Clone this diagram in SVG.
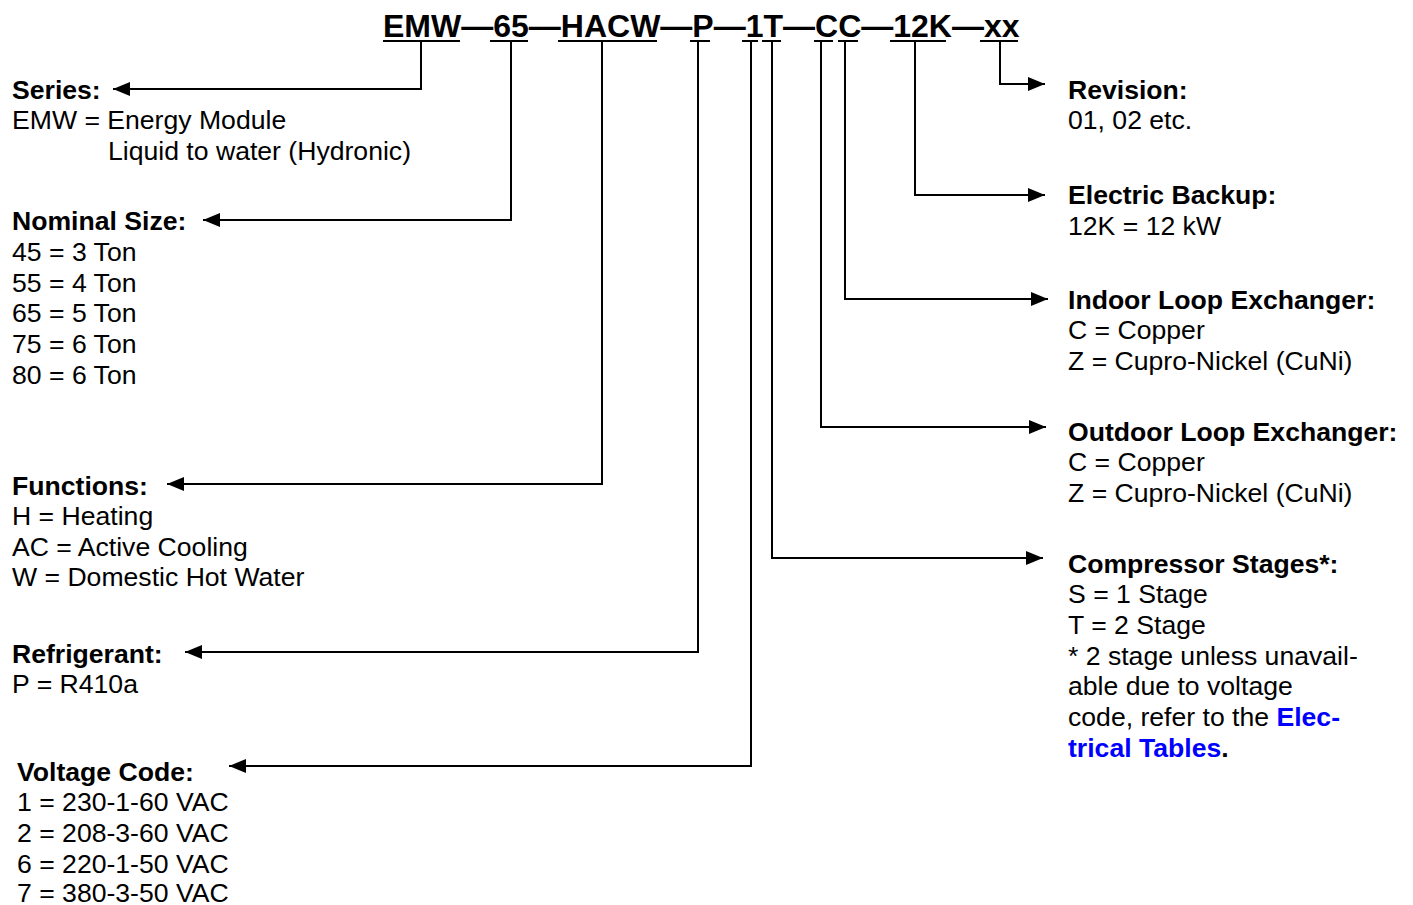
<svg xmlns="http://www.w3.org/2000/svg" width="1413" height="905" viewBox="0 0 1413 905">
<style>
text{font-family:"Liberation Sans",Arial,sans-serif;font-size:26.6px;fill:#000}
.b{font-weight:bold}
.t{font-size:32px;font-weight:bold}
.lnk{fill:#0000ff;font-weight:bold}
.c{fill:none;stroke:#000;stroke-width:2}
.u{stroke:#000;stroke-width:2}
</style>
<defs>
<marker id="ah" markerUnits="userSpaceOnUse" markerWidth="17" markerHeight="14" refX="17" refY="7" orient="auto">
<path d="M0,0 L17,7 L0,14 z" fill="#000"/>
</marker>
</defs>
<rect width="1413" height="905" fill="#fff"/>
<g id="title">
<text class="t" x="383" y="37">EMW—65—HACW—P—1T—CC—12K—xx</text>
<line class="u" x1="383" y1="41" x2="460" y2="41"/>
<line class="u" x1="490" y1="41" x2="528" y2="41"/>
<line class="u" x1="558" y1="41" x2="657" y2="41"/>
<line class="u" x1="690" y1="41" x2="710" y2="41"/>
<line class="u" x1="742" y1="41" x2="758" y2="41"/>
<line class="u" x1="762" y1="41" x2="781" y2="41"/>
<line class="u" x1="814" y1="41" x2="833" y2="41"/>
<line class="u" x1="838" y1="41" x2="858" y2="41"/>
<line class="u" x1="890" y1="41" x2="946" y2="41"/>
<line class="u" x1="980" y1="41" x2="1018" y2="41"/>
</g>
<g id="connectors">
<polyline class="c" points="421,41 421,89 113,89" marker-end="url(#ah)"/>
<polyline class="c" points="511,41 511,220 203,220" marker-end="url(#ah)"/>
<polyline class="c" points="602,41 602,484 167,484" marker-end="url(#ah)"/>
<polyline class="c" points="698,41 698,652 185,652" marker-end="url(#ah)"/>
<polyline class="c" points="751,41 751,766 229,766" marker-end="url(#ah)"/>
<polyline class="c" points="772,41 772,558 1043,558" marker-end="url(#ah)"/>
<polyline class="c" points="821,41 821,427 1046,427" marker-end="url(#ah)"/>
<polyline class="c" points="845,41 845,299 1048,299" marker-end="url(#ah)"/>
<polyline class="c" points="915,41 915,195 1045,195" marker-end="url(#ah)"/>
<polyline class="c" points="1000,41 1000,84 1045,84" marker-end="url(#ah)"/>
</g>
<g id="series">
<text class="b" x="12" y="99">Series:</text>
<text x="12" y="129">EMW = Energy Module</text>
<text x="108" y="160">Liquid to water (Hydronic)</text>
</g>
<g id="nominal-size">
<text class="b" x="12" y="230">Nominal Size:</text>
<text x="12" y="261">45 = 3 Ton</text>
<text x="12" y="292">55 = 4 Ton</text>
<text x="12" y="322">65 = 5 Ton</text>
<text x="12" y="353">75 = 6 Ton</text>
<text x="12" y="384">80 = 6 Ton</text>
</g>
<g id="functions">
<text class="b" x="12" y="495">Functions:</text>
<text x="12" y="525">H = Heating</text>
<text x="12" y="556">AC = Active Cooling</text>
<text x="12" y="586">W = Domestic Hot Water</text>
</g>
<g id="refrigerant">
<text class="b" x="12" y="663">Refrigerant:</text>
<text x="12" y="693">P = R410a</text>
</g>
<g id="voltage-code">
<text class="b" x="17" y="781">Voltage Code:</text>
<text x="17" y="811">1 = 230-1-60 VAC</text>
<text x="17" y="842">2 = 208-3-60 VAC</text>
<text x="17" y="873">6 = 220-1-50 VAC</text>
<text x="17" y="902">7 = 380-3-50 VAC</text>
</g>
<g id="revision">
<text class="b" x="1068" y="99">Revision:</text>
<text x="1068" y="129">01, 02 etc.</text>
</g>
<g id="electric-backup">
<text class="b" x="1068" y="204">Electric Backup:</text>
<text x="1068" y="235">12K = 12 kW</text>
</g>
<g id="indoor-loop">
<text class="b" x="1068" y="309">Indoor Loop Exchanger:</text>
<text x="1068" y="339">C = Copper</text>
<text x="1068" y="370">Z = Cupro-Nickel (CuNi)</text>
</g>
<g id="outdoor-loop">
<text class="b" x="1068" y="441">Outdoor Loop Exchanger:</text>
<text x="1068" y="471">C = Copper</text>
<text x="1068" y="502">Z = Cupro-Nickel (CuNi)</text>
</g>
<g id="compressor-stages">
<text class="b" x="1068" y="573">Compressor Stages*:</text>
<text x="1068" y="603">S = 1 Stage</text>
<text x="1068" y="634">T = 2 Stage</text>
<text x="1068" y="665">* 2 stage unless unavail-</text>
<text x="1068" y="695">able due to voltage</text>
<text x="1068" y="726">code, refer to the <tspan class="lnk">Elec-</tspan></text>
<text class="b" x="1068" y="757"><tspan class="lnk">trical Tables</tspan>.</text>
</g>
</svg>
